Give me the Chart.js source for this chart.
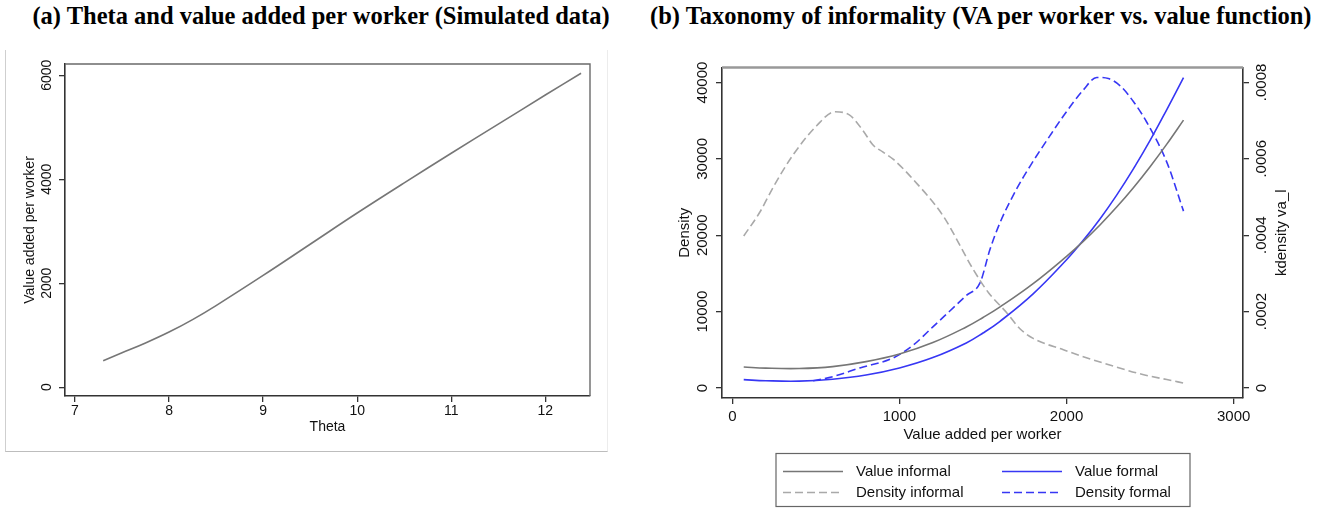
<!DOCTYPE html>
<html>
<head>
<meta charset="utf-8">
<script src="https://cdn.jsdelivr.net/npm/chart.js@4.4.1/dist/chart.umd.min.js"></script>
<style>
    body { margin: 0; background: #fff; width: 1318px; height: 508px; position: relative; overflow: hidden; }
    .ttl { position: absolute; top: 2px; font: bold 24.5px "Liberation Serif", "Times New Roman", serif; color: #000; text-align: center; white-space: nowrap; }
    .frame { position: absolute; left: 5px; top: 50px; width: 601px; height: 401px; border-left: 1px solid #cfcfcf; border-right: 1px solid #ececec; border-bottom: 1px solid #bdbdbd; }
    canvas { position: absolute; }
</style>
</head>
<body>

<div class="ttl" style="left:21px; width:600px;">(a) Theta and value added per worker (Simulated data)</div>
<div class="ttl" style="left:650px; width:661px;">(b) Taxonomy of informality (VA per worker vs. value function)</div>
<div class="frame"></div>

<canvas id="thetaChart" width="610" height="420" style="left:0; top:40px;"></canvas>
<canvas id="taxonomyChart" width="668" height="468" style="left:650px; top:40px;"></canvas>

<script>
    // (a) simulated theta vs value added per worker
    const theta = [7.3, 7.5, 7.75, 8, 8.25, 8.5, 9, 9.5, 10, 10.5, 11, 11.5, 12, 12.38];
    const vaPerWorker = [510, 660, 850, 1060, 1300, 1570, 2150, 2750, 3350, 3930, 4500, 5060, 5620, 6040];
    const thetaTicks = [7, 8, 9, 10, 11, 12];
    const vaTicks = [0, 2000, 4000, 6000];

    // (b) value functions and kernel densities over VA per worker
    const vaGrid = [68, 200, 400, 600, 800, 1000, 1200, 1400, 1500, 1600, 1800, 2000, 2100, 2200, 2300, 2400, 2500, 2600, 2700];
    const valueInformal = [2750, 2600, 2550, 2800, 3450, 4450, 5950, 7990, 9230, 10590, 13670, 17240, 19200, 21350, 23690, 26230, 28980, 31930, 35080];
    const valueFormal = [1090, 950, 900, 1150, 1700, 2620, 3980, 5900, 7200, 8700, 12330, 16790, 19330, 22140, 25260, 28690, 32420, 36460, 40650];

    const densInformalX = [68, 164, 250, 363, 503, 613, 700, 780, 842, 900, 962, 1082, 1262, 1442, 1532, 1642, 1721, 1800, 1981, 2100, 2281, 2450, 2600, 2700];
    const densInformal = [0.000398, 0.00046, 0.00053, 0.00061, 0.000686, 0.000723, 0.000715, 0.000675, 0.000636, 0.000618, 0.000599, 0.000546, 0.00045, 0.00031, 0.00025, 0.000197, 0.000155, 0.00013, 0.0001, 0.000082, 0.000057, 0.000036, 0.000022, 0.000013];

    const densFormalX = [483, 603, 763, 962, 1082, 1200, 1300, 1400, 1482, 1542, 1602, 1700, 1782, 1900, 1981, 2100, 2181, 2250, 2321, 2400, 2481, 2601, 2700];
    const densFormal = [0.000019, 0.00003, 0.0000525, 0.0000787, 0.000112, 0.00016, 0.000201, 0.000242, 0.000275, 0.000363, 0.000433, 0.00052, 0.000581, 0.00066, 0.000712, 0.00078, 0.000813, 0.00081, 0.000791, 0.00075, 0.000695, 0.00059, 0.000463];

    const vaAxisTicks = [0, 1000, 2000, 3000];
    const valueTicks = [0, 10000, 20000, 30000, 40000];
    const densTicks = [0, 0.0002, 0.0004, 0.0006, 0.0008];
    const densTickLabels = ['0', '.0002', '.0004', '.0006', '.0008'];

    const SANS = '"Liberation Sans", Arial, Helvetica, sans-serif';
    const GRAY = '#767676';
    const LIGHT_GRAY = '#a9a9a9';
    const BLUE = '#3737f4';
    const AXIS = '#333';

    const toXY = (xs, ys) => xs.map((x, i) => ({ x: x, y: ys[i] }));

    // fixed tick positions instead of auto-generated ones
    const fixTicks = values => scale => { scale.ticks = values.map(v => ({ value: v })); };

    function axisOpts(extra) {
        return Object.assign({
            type: 'linear',
            border: { display: true, color: AXIS, width: 1.6 },
            grid: { drawOnChartArea: false, drawTicks: true, tickLength: 6, color: AXIS, lineWidth: 1.3 },
        }, extra);
    }

    // rotated tick labels and axis titles, Stata style
    function rotatedText(ctx, text, x, y, font) {
        ctx.save();
        ctx.translate(x, y);
        ctx.rotate(-Math.PI / 2);
        ctx.font = font;
        ctx.fillStyle = '#111';
        ctx.textAlign = 'center';
        ctx.textBaseline = 'middle';
        ctx.fillText(text, 0, 0);
        ctx.restore();
    }

    // ---------- (a) ----------
    const thetaDecor = {
        id: 'thetaDecor',
        afterDraw(chart) {
            const { ctx, chartArea: a, scales } = chart;
            const font = '14px ' + SANS;
            ctx.save();
            ctx.strokeStyle = '#6a6a6a';
            ctx.lineWidth = 1.4;
            ctx.beginPath();
            ctx.moveTo(a.left, a.top);
            ctx.lineTo(a.right, a.top);
            ctx.lineTo(a.right, a.bottom);
            ctx.stroke();
            ctx.restore();
            vaTicks.forEach(v => rotatedText(ctx, String(v), 47, scales.y.getPixelForValue(v), font));
            rotatedText(ctx, 'Value added per worker', 30, (a.top + a.bottom) / 2, font);
            ctx.save();
            ctx.font = font;
            ctx.fillStyle = '#111';
            ctx.textAlign = 'center';
            ctx.textBaseline = 'middle';
            ctx.fillText('Theta', (a.left + a.right) / 2, 387);
            ctx.restore();
        }
    };

    new Chart(document.getElementById('thetaChart'), {
        type: 'line',
        data: {
            datasets: [{
                label: 'Value added per worker',
                data: toXY(theta, vaPerWorker),
                borderColor: GRAY,
                borderWidth: 1.6,
                pointRadius: 0,
                tension: 0.4
            }]
        },
        options: {
            responsive: false,
            animation: false,
            layout: { padding: { top: 24, right: 20, left: 0, bottom: 0 } },
            plugins: { legend: { display: false }, tooltip: { enabled: false } },
            scales: {
                x: axisOpts({
                    min: 6.894, max: 12.475,
                    afterBuildTicks: fixTicks(thetaTicks),
                    afterFit: s => { s.height = 64; },
                    ticks: { font: { family: SANS, size: 14 }, color: '#111', padding: 1, maxRotation: 0, callback: v => String(v) }
                }),
                y: axisOpts({
                    min: -170, max: 6217,
                    afterBuildTicks: fixTicks(vaTicks),
                    afterFit: s => { s.width = 65; },
                    ticks: { display: false }
                })
            }
        },
        plugins: [thetaDecor]
    });

    // ---------- (b) ----------
    const taxonomyDecor = {
        id: 'taxonomyDecor',
        afterDraw(chart) {
            const { ctx, chartArea: a, scales } = chart;
            const font = '15px ' + SANS;
            ctx.save();
            ctx.strokeStyle = '#999';
            ctx.lineWidth = 2.4;
            ctx.beginPath();
            ctx.moveTo(a.left, a.top);
            ctx.lineTo(a.right, a.top);
            ctx.stroke();
            ctx.restore();

            valueTicks.forEach(v => rotatedText(ctx, String(v), 53, scales.y.getPixelForValue(v), font));
            rotatedText(ctx, 'Density', 35, (a.top + a.bottom) / 2, font);
            densTicks.forEach((v, i) => rotatedText(ctx, densTickLabels[i], 612, scales.y1.getPixelForValue(v), font));
            rotatedText(ctx, 'kdensity va_l', 632, (a.top + a.bottom) / 2, font);

            ctx.save();
            ctx.font = font;
            ctx.fillStyle = '#111';
            ctx.textAlign = 'center';
            ctx.textBaseline = 'middle';
            ctx.fillText('Value added per worker', (a.left + a.right) / 2, 395);
            ctx.restore();

            // legend box, two columns
            const ds = chart.data.datasets;
            const box = { x: 126, y: 413.5, w: 414, h: 53 };
            ctx.save();
            ctx.strokeStyle = '#666';
            ctx.lineWidth = 1.2;
            ctx.strokeRect(box.x, box.y, box.w, box.h);
            const slots = [
                { d: ds[0], x: 133, y: 431.5 },
                { d: ds[1], x: 352, y: 431.5 },
                { d: ds[2], x: 133, y: 452.5 },
                { d: ds[3], x: 352, y: 452.5 }
            ];
            slots.forEach(s => {
                ctx.strokeStyle = s.d.borderColor;
                ctx.lineWidth = s.d.borderWidth;
                ctx.setLineDash(s.d.borderDash || []);
                ctx.beginPath();
                ctx.moveTo(s.x, s.y);
                ctx.lineTo(s.x + 60, s.y);
                ctx.stroke();
                ctx.setLineDash([]);
                ctx.font = font;
                ctx.fillStyle = '#111';
                ctx.textAlign = 'left';
                ctx.textBaseline = 'middle';
                ctx.fillText(s.d.label, s.x + 73, s.y);
            });
            ctx.restore();
        }
    };

    new Chart(document.getElementById('taxonomyChart'), {
        type: 'line',
        data: {
            datasets: [
                {
                    label: 'Value informal',
                    data: toXY(vaGrid, valueInformal),
                    yAxisID: 'y',
                    borderColor: GRAY, borderWidth: 1.6, pointRadius: 0,
                    tension: 0.4
                },
                {
                    label: 'Value formal',
                    data: toXY(vaGrid, valueFormal),
                    yAxisID: 'y',
                    borderColor: BLUE, borderWidth: 1.6, pointRadius: 0,
                    tension: 0.4
                },
                {
                    label: 'Density informal',
                    data: toXY(densInformalX, densInformal),
                    yAxisID: 'y1',
                    borderColor: LIGHT_GRAY, borderWidth: 1.6, borderDash: [8, 4], pointRadius: 0,
                    cubicInterpolationMode: 'monotone'
                },
                {
                    label: 'Density formal',
                    data: toXY(densFormalX, densFormal),
                    yAxisID: 'y1',
                    borderColor: BLUE, borderWidth: 1.6, borderDash: [8, 4], pointRadius: 0,
                    cubicInterpolationMode: 'monotone'
                }
            ]
        },
        options: {
            responsive: false,
            animation: false,
            layout: { padding: { top: 27.5, right: 0, left: 0, bottom: 0 } },
            plugins: { legend: { display: false }, tooltip: { enabled: false } },
            scales: {
                x: axisOpts({
                    min: -62, max: 3056,
                    afterBuildTicks: fixTicks(vaAxisTicks),
                    afterFit: s => { s.height = 110; },
                    ticks: { font: { family: SANS, size: 15 }, color: '#111', padding: 4, maxRotation: 0, callback: v => String(v) }
                }),
                y: axisOpts({
                    position: 'left',
                    min: -1311, max: 41967,
                    afterBuildTicks: fixTicks(valueTicks),
                    afterFit: s => { s.width = 72; },
                    ticks: { display: false }
                }),
                y1: axisOpts({
                    position: 'right',
                    min: -0.0000262, max: 0.000839,
                    afterBuildTicks: fixTicks(densTicks),
                    afterFit: s => { s.width = 75; },
                    ticks: { display: false }
                })
            }
        },
        plugins: [taxonomyDecor]
    });
</script>
</body>
</html>
